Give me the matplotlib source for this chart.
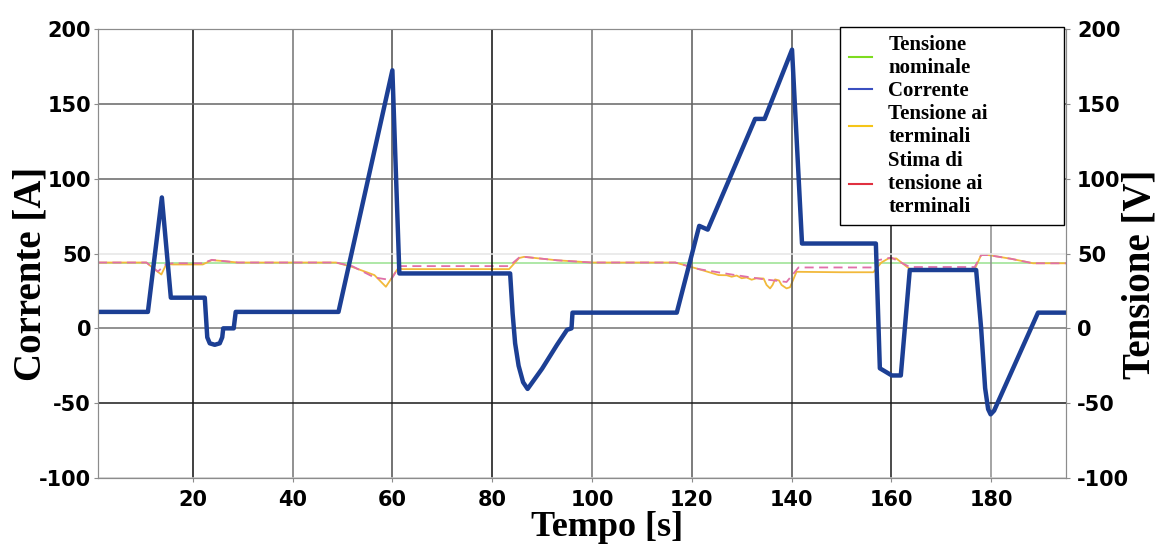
import numpy as np
import matplotlib.pyplot as plt
from matplotlib.lines import Line2D

plt.rcParams['axes.unicode_minus'] = False

# corrente [A]
t_corr = [1, 11, 13.8, 15.6, 22.4, 22.9, 23.4, 24.4, 25.4, 25.9, 26.1, 28.2, 28.6, 49.2,
          60, 61.4, 83.6, 84.1, 84.6, 85.3, 86.2, 87.1, 90, 93, 95, 95.9, 96.1, 117,
          121.5, 123.2, 132.7, 134.6, 140.1, 142.1, 156.9, 157.7, 160.1, 161.9, 163.7,
          177, 178, 178.8, 179.4, 179.9, 180.6, 189.4, 195]
corrente = [11, 11, 87.5, 20.5, 20.5, -6, -10, -11, -10, -6, 0, 0, 11, 11,
            172.5, 36.7, 36.7, 10, -10, -25, -36, -40.5, -27, -11, -1, 0, 10.5, 10.5,
            68.5, 66, 140, 140, 186.3, 56.7, 56.7, -26.7, -31.5, -31.5, 39,
            39, 0, -40, -54, -57.5, -55, 10.5, 10.5]

# tensione ai terminali [V]
t_term = [1, 10.7, 12.5, 13.7, 14.7, 16, 22, 23.8, 26, 29, 48.7, 52, 56.4, 58.7, 61.1, 62,
          83.4, 85.4, 86.4, 93, 100, 116.7, 121.4, 124, 125.4, 127, 128, 129, 130, 131,
          132, 133, 134.4, 135, 135.7, 136.2, 136.7, 137.5, 138, 139, 139.7, 141, 150,
          156.4, 158, 159.4, 161, 163.7, 176.7, 178, 179.4, 184, 188.4, 195]
v_term = [44, 44, 39, 36, 43, 42.7, 42.7, 45.6, 45, 44, 44, 41, 35.6, 27.8, 40, 39.6,
          39.6, 47, 47.8, 45.5, 44, 44, 39.6, 37, 35.6, 35.5, 34.5, 35.3, 33.5, 34,
          32.5, 33.5, 33.3, 29, 26.7, 29, 32.7, 32, 29, 26.7, 27.5, 37.8, 37.5,
          37.5, 44, 46.7, 46.7, 39.6, 39.6, 49, 49, 46.5, 43.5, 43.5]

# stima di tensione ai terminali [V]
t_stima = [1, 10.7, 13, 14.7, 16, 22, 23.8, 29, 48.7, 52, 56.4, 59.7, 61.4, 83.4, 85.4,
           86.4, 93, 100, 116.7, 121.4, 128, 134, 139, 141.4, 156.4, 157.4, 160, 163.7,
           176.7, 178, 179.4, 184, 188.4, 195]
v_stima = [44, 44, 38, 43, 43.5, 43.5, 45.8, 44, 44, 41.5, 34, 32.3, 41.6, 41.6, 47.3,
           47.8, 45.5, 44, 44, 39.6, 36, 33, 31, 40.7, 40.7, 45.6, 47.3, 41,
           41, 49, 49, 46.5, 43.5, 43.5]

v_nominale = 44

fig = plt.figure(figsize=(11.75, 5.5), dpi=100)
ax = fig.add_axes([0.0834, 0.131, 0.8238, 0.816])
ax2 = ax.twinx()

ax2.axhline(v_nominale, color='#a8e6a0', lw=1.3)
ax2.plot(t_term, v_term, color='#f2b93b', lw=1.3)
ax2.plot(t_stima, v_stima, color='#e070a8', lw=1.3, ls=(0, (5, 3)))
ax.plot(t_corr, corrente, color='#1c3f94', lw=3.2, solid_joinstyle='round')

ax.set_zorder(ax2.get_zorder() + 1)
ax.patch.set_visible(False)

for a in (ax, ax2):
    a.set_xlim(1, 195)
    a.set_ylim(-100, 200)
    a.set_yticks([-100, -50, 0, 50, 100, 150, 200])
    for s in a.spines.values():
        s.set_color('0.55')

ax.set_xticks([20, 40, 60, 80, 100, 120, 140, 160, 180])
ax.grid(True, color='0.35', lw=1.1)
ycol = ['0.8', '0.1', '0.45', '0.9', '0.4', '0.4', '0.4']
for gl, c in zip(ax.get_ygridlines(), ycol):
    gl.set_color(c)
xcol = ['0.05', '0.45', '0.3', '0.05', '0.45', '0.35', '0.3', '0.1', '0.55']
for gl, c in zip(ax.get_xgridlines(), xcol):
    gl.set_color(c)

ax.tick_params(axis='both', labelsize=15, length=3, color='0.55')
ax.tick_params(axis='y', pad=2)
ax.tick_params(axis='x', pad=6)
ax2.tick_params(axis='y', labelsize=15, length=3, color='0.55', pad=5)
for lab in ax.get_xticklabels() + ax.get_yticklabels() + ax2.get_yticklabels():
    lab.set_fontweight('bold')

ax.set_xlabel('Tempo [s]', family='Liberation Serif', fontsize=26, fontweight='bold')
ax.xaxis.set_label_coords(0.526, -0.111)
ax.xaxis.label.set_va('center')
ax.set_ylabel('Corrente [A]', family='Liberation Serif', fontsize=28, fontweight='bold')
ax.yaxis.set_label_coords(-0.069, 0.454)
ax.yaxis.label.set_va('center')
ax2.set_ylabel('Tensione [V]', family='Liberation Serif', fontsize=28, fontweight='bold',
               rotation=90)
ax2.yaxis.set_label_coords(1.0764, 0.454)
ax2.yaxis.label.set_va('center')

handles = [Line2D([], [], color='#7ddc1f', lw=1.5),
           Line2D([], [], color='#3a4fc0', lw=1.5),
           Line2D([], [], color='#f5c518', lw=1.5),
           Line2D([], [], color='#e03040', lw=1.5)]
labels = ['Tensione\nnominale', 'Corrente', 'Tensione ai\nterminali',
          'Stima di\ntensione ai\nterminali']
leg = ax.legend(handles, labels, loc='upper left', bbox_to_anchor=(0.767, 0.0, 0.231, 1.005),
                mode='expand',
                prop={'family': 'Liberation Serif', 'weight': 'bold', 'size': 15},
                fancybox=False, framealpha=1, edgecolor='black', handlelength=1.1,
                labelspacing=0.15, borderpad=0.4, borderaxespad=0, handletextpad=0.8)
leg.get_frame().set_linewidth(1.0)

fig.savefig('out.png', dpi=100)
plt.close()
